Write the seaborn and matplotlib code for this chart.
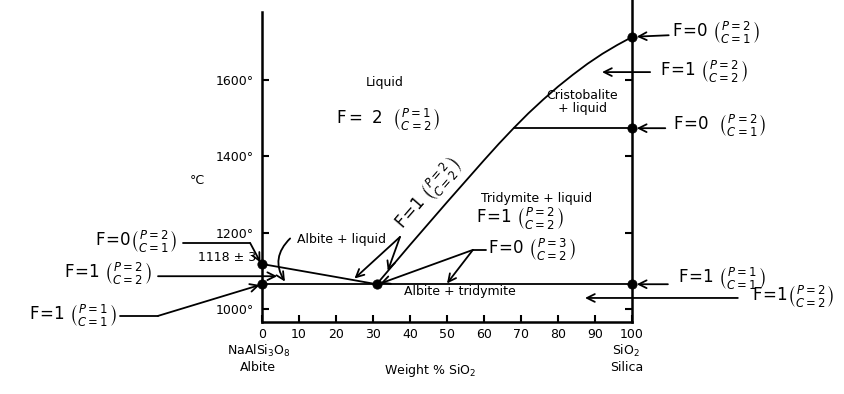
import matplotlib
matplotlib.use("Agg")
import matplotlib.pyplot as plt
import seaborn as sns

# liquidus, albite side (wt% SiO2, deg C)
albite_liq_x = [0, 10, 20, 31]
albite_liq_t = [1118, 1101, 1084, 1065]
# liquidus, silica side
silica_liq_x = [31, 40, 50, 56, 60, 64, 68, 72, 76, 80, 84, 88, 92, 96, 100]
silica_liq_t = [1065, 1168, 1280, 1346, 1390, 1433, 1474, 1513, 1549, 1583,
                1614, 1643, 1669, 1692, 1713]
# horizontal boundaries
eutectic_t = 1065
cristo_x = [68, 100]
cristo_t = [1474, 1474]
# invariant / special points
pts_x = [0, 0, 31, 100, 100, 100]
pts_t = [1118, 1065, 1065, 1713, 1474, 1065]

xticks = list(range(0, 101, 10))
yticks = [1000, 1200, 1400, 1600]
ytick_labels = ["1000°", "1200°", "1400°", "1600°"]

sns.set_style("ticks")
plt.rcParams["font.family"] = ["DejaVu Sans"]
plt.rcParams["mathtext.fontset"] = "dejavusans"
plt.rcParams["text.color"] = "k"
plt.rcParams["xtick.color"] = "k"
plt.rcParams["ytick.color"] = "k"
plt.rcParams["xtick.labelcolor"] = "k"
plt.rcParams["ytick.labelcolor"] = "k"

fig = plt.figure(figsize=(8.45, 3.94), dpi=100)
ax = fig.add_axes([262 / 845, 72 / 394, 370 / 845, 322 / 394])
ax.set_xlim(0, 100)
ax.set_ylim(966, 1810)

lw = 1.3
sns.lineplot(x=albite_liq_x, y=albite_liq_t, ax=ax, color="k", lw=lw)
sns.lineplot(x=silica_liq_x, y=silica_liq_t, ax=ax, color="k", lw=lw)
sns.lineplot(x=cristo_x, y=cristo_t, ax=ax, color="k", lw=lw)
ax.plot([0, 100], [eutectic_t, eutectic_t], color="k", lw=lw)
sns.scatterplot(x=pts_x, y=pts_t, ax=ax, color="k", s=45, zorder=5, clip_on=False,
                edgecolor="k")

ax.spines["top"].set_visible(False)
for s in ["left", "right", "bottom"]:
    ax.spines[s].set_linewidth(1.8)
    ax.spines[s].set_color("k")
ax.spines["left"].set_bounds(966, 1778)

ax.set_xticks(xticks)
ax.set_xticklabels([str(v) for v in xticks], fontsize=9)
ax.set_yticks(yticks)
ax.set_yticklabels(ytick_labels, fontsize=9)
ax.tick_params(axis="both", direction="in", length=5, width=1.5, color="k")
ax.tick_params(axis="x", pad=4)
ax.tick_params(axis="y", pad=6, right=True)
ax.set_xlabel("")
ax.set_ylabel("")

hand = 12
arw = dict(arrowstyle="->", color="k", lw=1.3, shrinkA=0, shrinkB=0,
           mutation_scale=14)


def phase(p, c):
    return r"\left(\genfrac{}{}{0}{}{P=%s}{C=%s}\right)" % (p, c)


def fval(f, p, c, gap=r"\ "):
    return r"$\mathregular{F\!=\!%s}%s" % (f, gap) + phase(p, c) + "$"


# right side labels
ax.annotate(fval(0, 2, 1), xy=(101.3, 1714), xytext=(110.8, 1723), ha="left",
            va="center", fontsize=hand, arrowprops=arw, annotation_clip=False)
ax.annotate("", xy=(91.9, 1621), xytext=(104.9, 1621), arrowprops=arw,
            annotation_clip=False)
ax.text(107.6, 1621, fval(1, 2, 2), fontsize=hand, va="center", clip_on=False)
ax.annotate("", xy=(101.3, 1474), xytext=(109.0, 1474), arrowprops=arw,
            annotation_clip=False)
ax.text(111.0, 1480, fval(0, 2, 1, r"\ \ "), fontsize=hand, va="center",
        clip_on=False)
ax.annotate("", xy=(101.3, 1065), xytext=(109.7, 1065), arrowprops=arw,
            annotation_clip=False)
ax.text(112.4, 1079, fval(1, 1, 1), fontsize=hand, va="center", clip_on=False)
ax.annotate("", xy=(87.3, 1029), xytext=(128.6, 1029), arrowprops=arw,
            annotation_clip=False)
ax.text(132.5, 1031, fval(1, 2, 2, ""), fontsize=hand, va="center", clip_on=False)

# left side labels
ax.plot([-21.4, -3.2], [1173, 1173], color="k", lw=1.3, clip_on=False)
ax.annotate("", xy=(-0.4, 1122), xytext=(-3.2, 1173), arrowprops=arw,
            annotation_clip=False)
ax.text(-22.7, 1175, fval(0, 2, 1, ""), fontsize=hand, va="center", ha="right",
        clip_on=False)
ax.annotate("", xy=(4.1, 1086), xytext=(-28.1, 1086), arrowprops=arw,
            annotation_clip=False)
ax.text(-29.7, 1092, fval(1, 2, 2), fontsize=hand, va="center", ha="right",
        clip_on=False)
ax.plot([-38.4, -28.1], [982, 982], color="k", lw=1.3, clip_on=False)
ax.annotate("", xy=(-0.6, 1063), xytext=(-28.1, 982), arrowprops=arw,
            annotation_clip=False)
ax.text(-39.2, 982, fval(1, 1, 1), fontsize=hand, va="center", ha="right",
        clip_on=False)

# field labels
lab = 9
ax.text(33.2, 1595, "Liquid", fontsize=lab, ha="center", va="center")
ax.text(34, 1495, r"$\mathregular{F=\ 2}\ \ " + phase(1, 2) + "$", fontsize=hand,
        ha="center", va="center")
ax.text(86.5, 1542, "Cristobalite\n+ liquid", fontsize=lab, ha="center",
        va="center", linespacing=1.0)
ax.text(74.3, 1291, "Tridymite + liquid", fontsize=lab, ha="center", va="center")
ax.text(69.7, 1236, fval(1, 2, 2), fontsize=hand, ha="center", va="center")
ax.text(53.5, 1045, "Albite + tridymite", fontsize=lab, ha="center", va="center")
ax.text(21.6, 1181, "Albite + liquid", fontsize=lab, ha="center", va="center")
ax.annotate("", xy=(6.2, 1072), xytext=(7.6, 1185), arrowprops=dict(
    arw, connectionstyle="arc3,rad=0.4"), annotation_clip=False)

# label along the silica liquidus
ax.text(45.0, 1300, fval(1, 2, 2), fontsize=hand, ha="center", va="center",
        rotation=49, rotation_mode="anchor")
ax.annotate("", xy=(25.0, 1080), xytext=(37.3, 1189), arrowprops=arw)
ax.annotate("", xy=(34.0, 1100), xytext=(37.3, 1189), arrowprops=arw)

# invariant point label
ax.plot([57, 60.5], [1155, 1155], color="k", lw=1.3)
ax.text(61.0, 1155, fval(0, 3, 2), fontsize=hand, va="center")
ax.annotate("", xy=(32.0, 1067), xytext=(57, 1155), arrowprops=arw)
ax.annotate("", xy=(50.0, 1067), xytext=(57, 1155), arrowprops=arw)

# axis texts
ax.text(-17.6, 1338, "°C", fontsize=lab, ha="center", va="center")
ax.text(-1.6, 1134, "1118 ± 3", fontsize=lab, ha="right", va="center")
ax.text(-1.0, 910, "NaAlSi$_3$O$_8$\nAlbite", fontsize=lab, ha="center",
        va="top", linespacing=1.2)
ax.text(98.5, 910, "SiO$_2$\nSilica", fontsize=lab, ha="center", va="top",
        linespacing=1.2)
ax.text(45.4, 839, "Weight % SiO$_2$", fontsize=lab, ha="center", va="center")

fig.savefig("out.png", dpi=100)
